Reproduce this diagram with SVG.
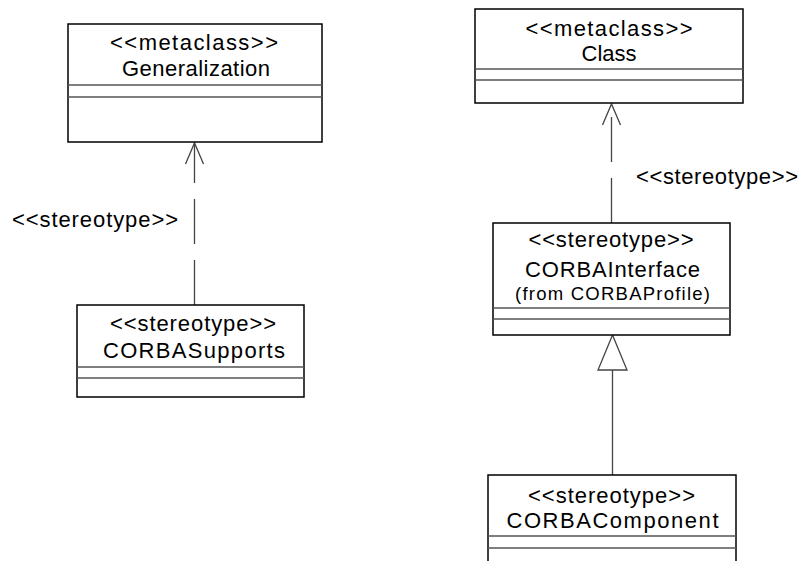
<svg xmlns="http://www.w3.org/2000/svg" width="803" height="561" viewBox="0 0 803 561">
  <style>
    .box { fill: #ffffff; stroke: #000000; stroke-width: 1.5; }
    .sep { stroke: #555555; stroke-width: 1.5; fill: none; }
    .t { font-family: "Liberation Sans", Arial, sans-serif; font-size: 22px; fill: #000000; text-anchor: middle; }
    .ts { font-family: "Liberation Sans", Arial, sans-serif; font-size: 18.5px; fill: #000000; text-anchor: middle; }
    .lbl { font-family: "Liberation Sans", Arial, sans-serif; font-size: 22px; fill: #000000; }
    .dep { stroke: #444444; stroke-width: 1.3; fill: none; stroke-dasharray: 45 16; }
    .gen { stroke: #444444; stroke-width: 1.3; fill: none; }
  </style>
  <defs>
    <marker id="open" markerUnits="userSpaceOnUse" markerWidth="30" markerHeight="30" refX="0" refY="0" viewBox="-25 -12 30 24" orient="auto" overflow="visible">
      <path d="M-21,-9 L0,0 L-21,9" fill="none" stroke="#444444" stroke-width="1.3"/>
    </marker>
  </defs>
  <rect width="803" height="561" fill="#ffffff"/>

  <g id="connectors">
    <path class="dep" d="M194.5,305 V143" marker-end="url(#open)"/>
    <path class="dep" d="M611.5,223 V104" marker-end="url(#open)"/>
    <path class="gen" d="M612.5,475 V370"/>
    <polygon points="612.5,335 598,370 627,370" fill="#ffffff" stroke="#444444" stroke-width="1.3"/>
    <text class="lbl" x="12" y="227" textLength="166" lengthAdjust="spacing">&lt;&lt;stereotype&gt;&gt;</text>
    <text class="lbl" x="636" y="184" textLength="162" lengthAdjust="spacing">&lt;&lt;stereotype&gt;&gt;</text>
  </g>

  <g id="Generalization">
    <rect class="box" x="68" y="24" width="254" height="118"/>
    <line class="sep" x1="68" y1="85" x2="322" y2="85"/>
    <line class="sep" x1="68" y1="97" x2="322" y2="97"/>
    <text class="t" x="194" y="50" textLength="168" lengthAdjust="spacing">&lt;&lt;metaclass&gt;&gt;</text>
    <text class="t" x="196" y="76" textLength="148" lengthAdjust="spacing">Generalization</text>
  </g>

  <g id="Class">
    <rect class="box" x="475" y="9" width="268" height="94"/>
    <line class="sep" x1="475" y1="69" x2="743" y2="69"/>
    <line class="sep" x1="475" y1="80" x2="743" y2="80"/>
    <text class="t" x="609" y="36" textLength="167" lengthAdjust="spacing">&lt;&lt;metaclass&gt;&gt;</text>
    <text class="t" x="609" y="61" textLength="55" lengthAdjust="spacing">Class</text>
  </g>

  <g id="CORBASupports">
    <rect class="box" x="77" y="305" width="227" height="92"/>
    <line class="sep" x1="77" y1="367" x2="304" y2="367"/>
    <line class="sep" x1="77" y1="378" x2="304" y2="378"/>
    <text class="t" x="193" y="331" textLength="166" lengthAdjust="spacing">&lt;&lt;stereotype&gt;&gt;</text>
    <text class="t" x="194" y="358" textLength="182" lengthAdjust="spacing">CORBASupports</text>
  </g>

  <g id="CORBAInterface">
    <rect class="box" x="493" y="223" width="237" height="112"/>
    <line class="sep" x1="493" y1="308" x2="730" y2="308"/>
    <line class="sep" x1="493" y1="319" x2="730" y2="319"/>
    <text class="t" x="611" y="247" textLength="165" lengthAdjust="spacing">&lt;&lt;stereotype&gt;&gt;</text>
    <text class="t" x="612.5" y="277" textLength="175" lengthAdjust="spacing">CORBAInterface</text>
    <text class="ts" x="612.5" y="300" textLength="195" lengthAdjust="spacing">(from CORBAProfile)</text>
  </g>

  <g id="CORBAComponent">
    <rect class="box" x="488" y="475" width="248" height="100"/>
    <line class="sep" x1="488" y1="536" x2="736" y2="536"/>
    <line class="sep" x1="488" y1="548" x2="736" y2="548"/>
    <text class="t" x="611.5" y="503" textLength="167" lengthAdjust="spacing">&lt;&lt;stereotype&gt;&gt;</text>
    <text class="t" x="612.5" y="528" textLength="212" lengthAdjust="spacing">CORBAComponent</text>
  </g>
</svg>
